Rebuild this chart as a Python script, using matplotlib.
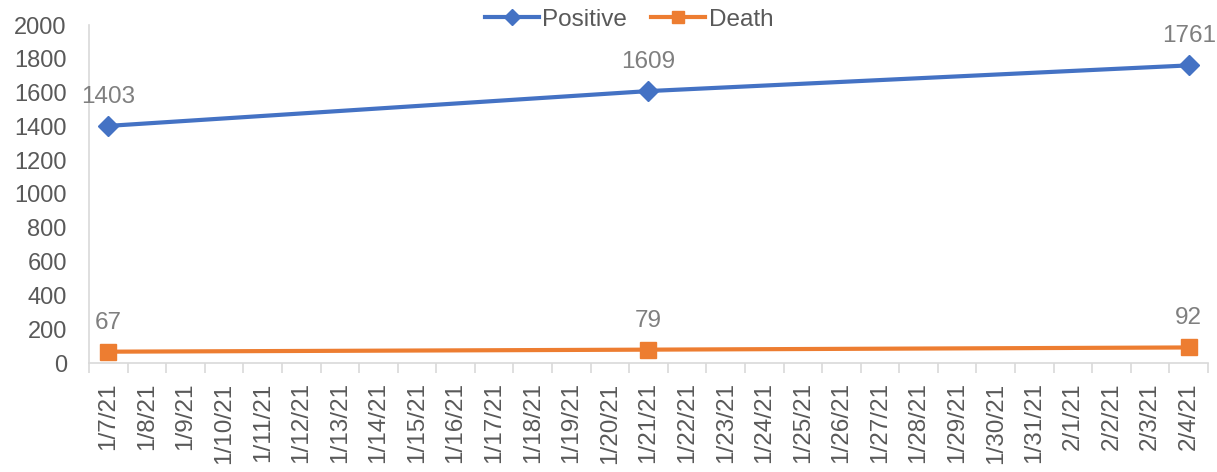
import matplotlib
matplotlib.use("Agg")
import matplotlib.pyplot as plt
import numpy as np

plt.rcParams['font.family'] = ['Liberation Sans', 'DejaVu Sans']

dates = ["1/7/21", "1/8/21", "1/9/21", "1/10/21", "1/11/21", "1/12/21", "1/13/21",
         "1/14/21", "1/15/21", "1/16/21", "1/17/21", "1/18/21", "1/19/21", "1/20/21",
         "1/21/21", "1/22/21", "1/23/21", "1/24/21", "1/25/21", "1/26/21", "1/27/21",
         "1/28/21", "1/29/21", "1/30/21", "1/31/21", "2/1/21", "2/2/21", "2/3/21", "2/4/21"]
point_dates = ["1/7/21", "1/21/21", "2/4/21"]
positive = [1403, 1609, 1761]
death = [67, 79, 92]
yticks = [0, 200, 400, 600, 800, 1000, 1200, 1400, 1600, 1800, 2000]

blue = "#4472C4"
orange = "#ED7D31"
axis_col = "#D9D9D9"
tick_col = "#595959"
label_col = "#7F7F7F"

fig = plt.figure(figsize=(12.17, 4.72), dpi=100)
ax = fig.add_axes([89/1217, 1-363/472, (1208-89)/1217, (363-25)/472])

xs = [dates.index(d) for d in point_dates]
ax.plot(xs, positive, color=blue, lw=3, marker='D', ms=10, label="Positive", zorder=3)
ax.plot(xs, death, color=orange, lw=3, marker='s', ms=11, label="Death", zorder=3)

for x, v in zip(xs, positive):
    ax.annotate(str(v), (x, v), xytext=(0, 13), textcoords='offset points',
                ha='center', va='bottom', fontsize=17.5, color=label_col)
for x, v in zip(xs, death):
    ax.annotate(str(v), (x, v), xytext=(0, 13), textcoords='offset points',
                ha='center', va='bottom', fontsize=17.5, color=label_col)

ax.set_xlim(-0.5, len(dates) - 0.5)
ax.set_ylim(0, 2000)
ax.set_yticks(yticks)
ax.set_yticklabels([str(t) for t in yticks], fontsize=17, color=tick_col)
ax.tick_params(axis='y', length=0, pad=16)

ax.set_xticks(np.arange(len(dates)))
ax.set_xticklabels(dates, rotation=90, fontsize=17.5, color=tick_col, va='top', ha='center')
ax.tick_params(axis='x', which='major', length=0, pad=14)
ax.set_xticks(np.arange(len(dates) + 1) - 0.5, minor=True)
ax.tick_params(axis='x', which='minor', length=7, width=1.2, color=axis_col, direction='out')

for s in ['top', 'right']:
    ax.spines[s].set_visible(False)
for s in ['left', 'bottom']:
    ax.spines[s].set_color(axis_col)
    ax.spines[s].set_linewidth(1.2)

leg = fig.legend(loc='upper center', bbox_to_anchor=(0.517, 1.028), ncol=2, frameon=False,
                 fontsize=17.5, handlelength=2.2, columnspacing=1.0, handletextpad=0.15,
                 markerscale=0.8)
for t in leg.get_texts():
    t.set_color(tick_col)

fig.savefig("out.png", dpi=100)
